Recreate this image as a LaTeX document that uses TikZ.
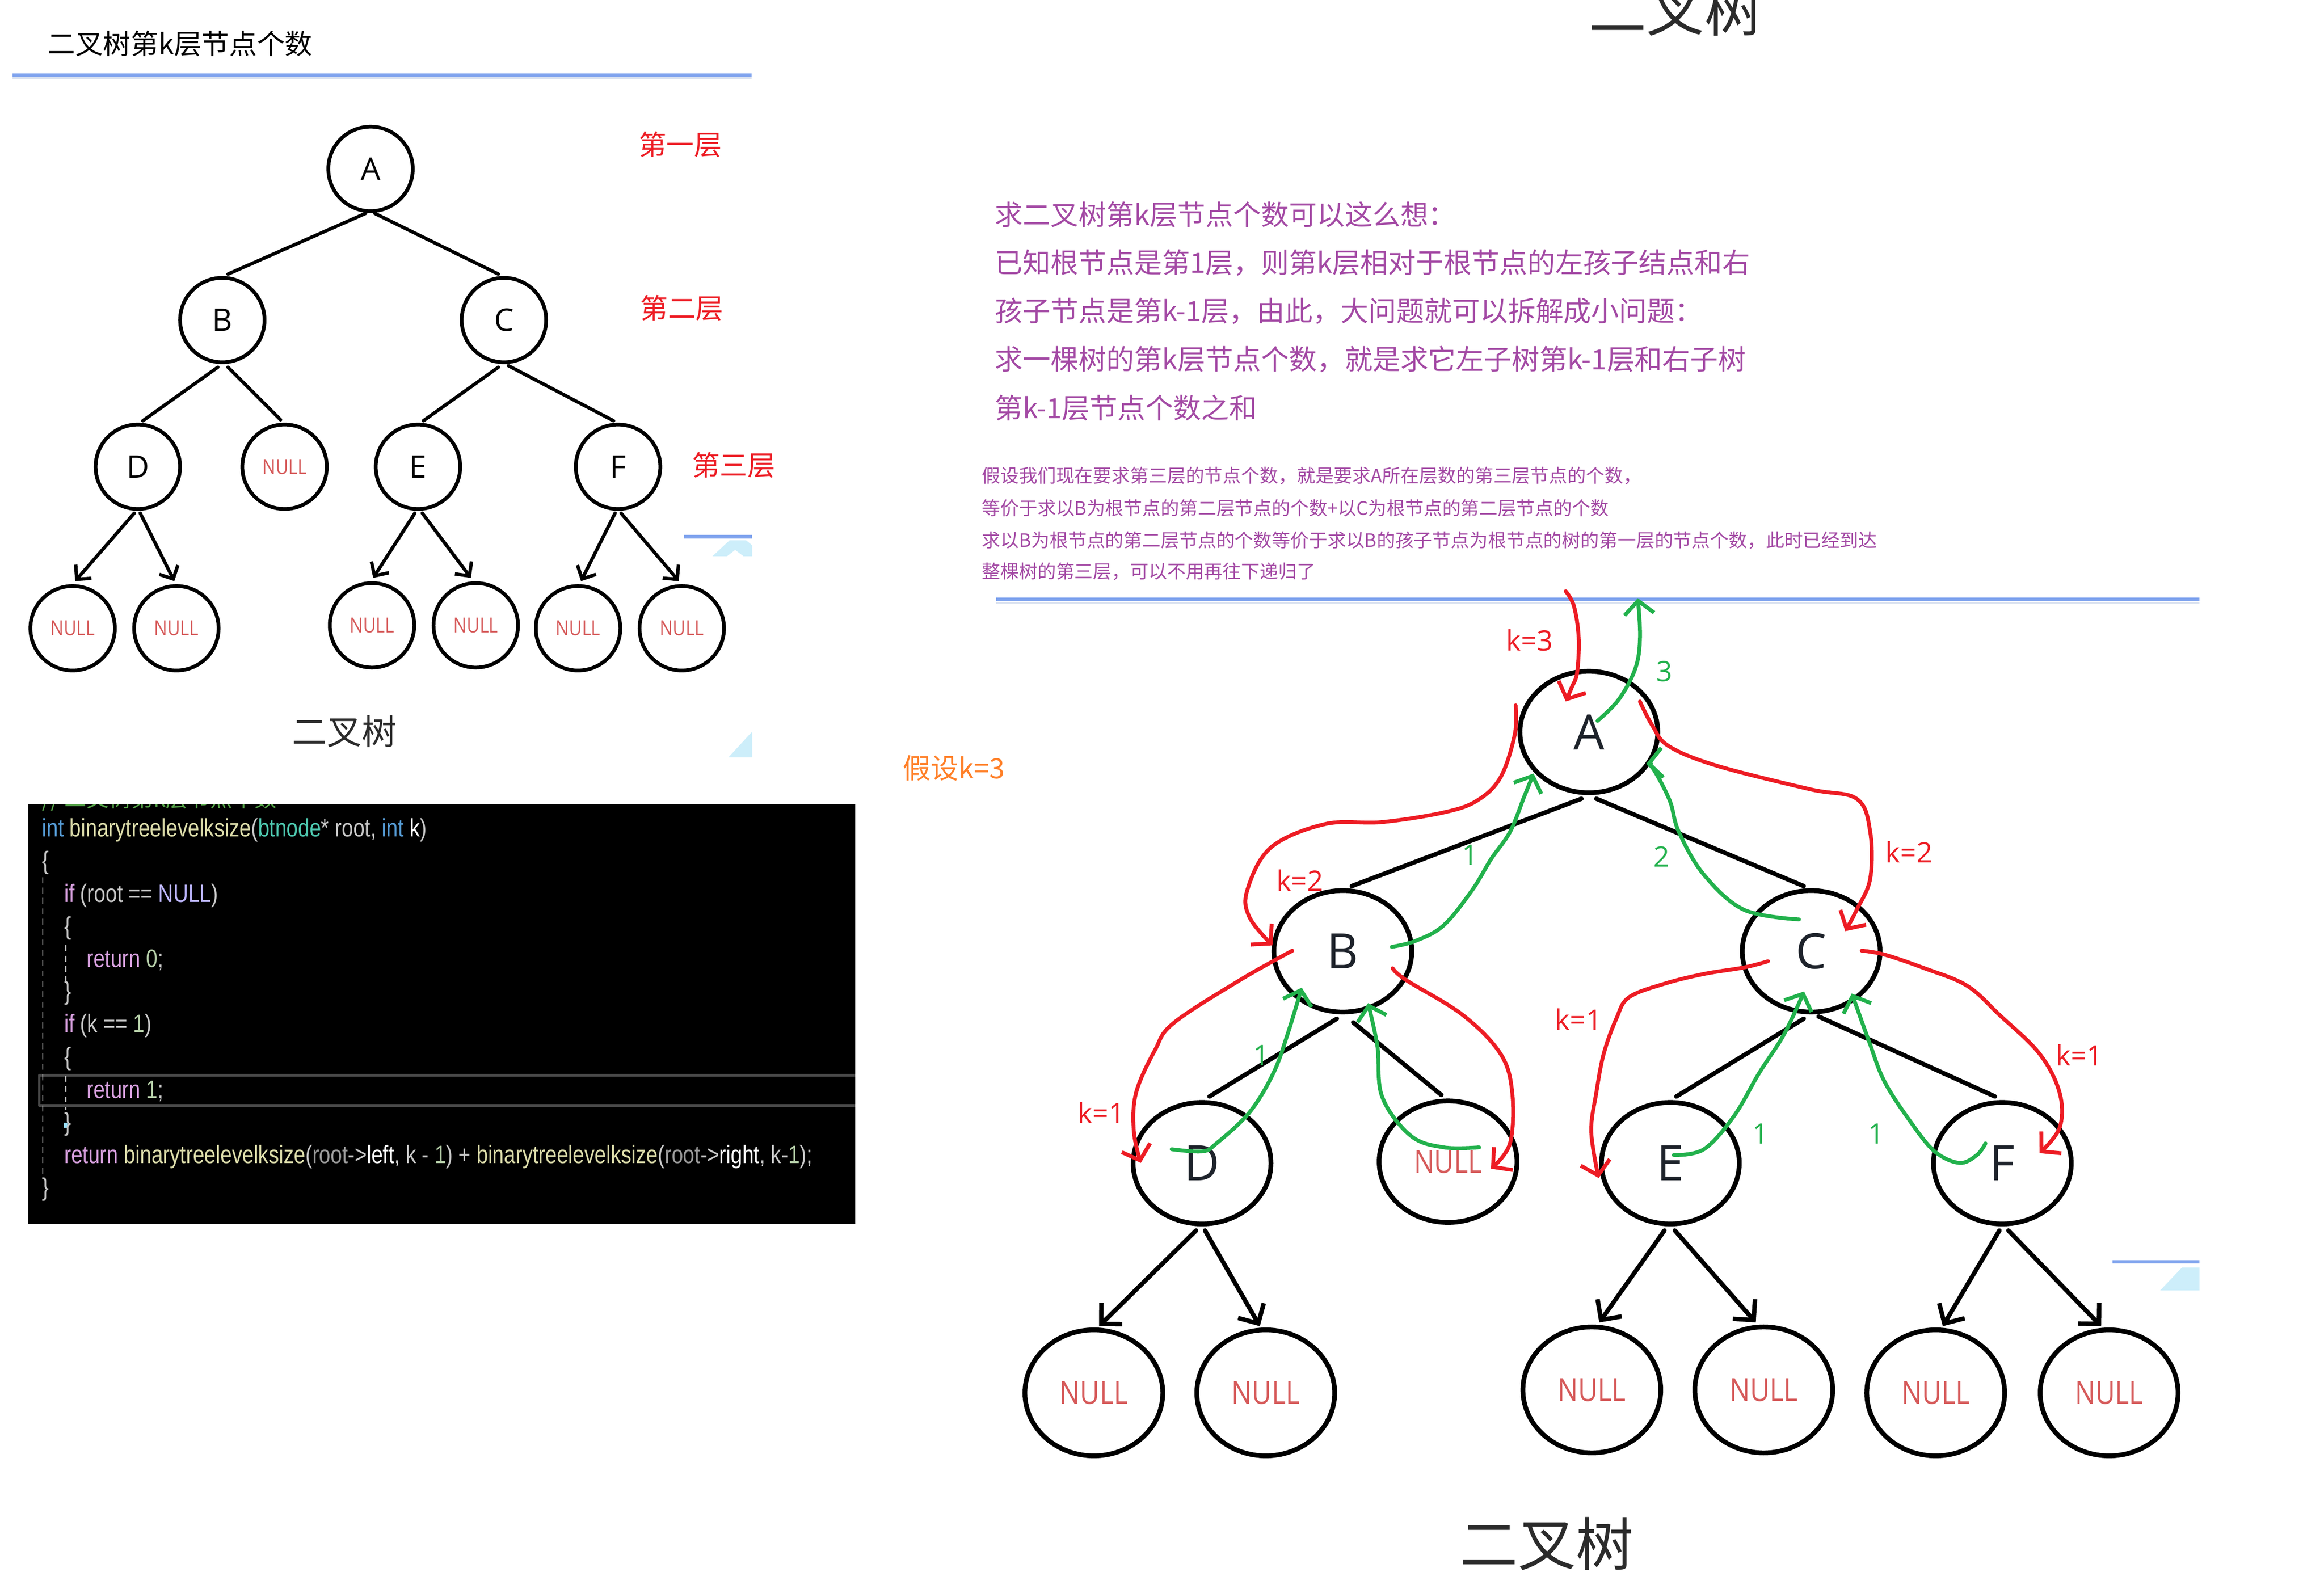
\documentclass[tikz,border=0pt]{standalone}
\usepackage{fontspec}
\setmainfont{Open Sans}
\newfontfamily\cjk{Noto Sans CJK SC}
\newfontfamily\codefnt[FakeStretch=0.82]{Liberation Sans}
\newfontfamily\nullfnt[FakeStretch=0.85]{Open Sans}
\usetikzlibrary{shapes.geometric, arrows.meta}
\newcommand{\setfs}[1]{\fontsize{#1}{#1}\selectfont}
\definecolor{pred}{HTML}{ED1C24}
\definecolor{pgreen}{HTML}{22B14C}
\definecolor{ppurple}{HTML}{A349A4}
\definecolor{porange}{HTML}{FF7F27}
\definecolor{nullred}{HTML}{D65A5A}
\definecolor{rulec}{HTML}{7FA3EE}
\definecolor{rulelight}{HTML}{DCE3F0}
\definecolor{cyanart}{HTML}{CDEEFA}
\definecolor{ckw}{HTML}{569CD6}
\definecolor{cfn}{HTML}{DCDCAA}
\definecolor{ctype}{HTML}{4EC9B0}
\definecolor{cpl}{HTML}{C8C8C8}
\definecolor{cgr}{HTML}{9B9B9B}
\definecolor{cctl}{HTML}{D8A0DF}
\definecolor{cmac}{HTML}{BEB7FF}
\definecolor{cnum}{HTML}{B5CEA8}
\definecolor{ccom}{HTML}{57A64A}
\definecolor{letter}{HTML}{1E232B}
\definecolor{hlbox}{HTML}{4A4A4A}
\definecolor{darktxt}{HTML}{2B2B2B}
\tikzset{
  lnode/.style={draw, circle, line width=2.5pt, minimum size=57pt, inner sep=0pt, font=\setfs{21}, text=black},
  lnull/.style={lnode, font=\nullfnt\setfs{14}, text=nullred},
  rnode/.style={draw, ellipse, line width=3.2pt, minimum width=93pt, minimum height=82pt, inner sep=0pt, font=\setfs{33}, text=letter},
  rnull/.style={rnode, font=\nullfnt\setfs{21.5}, text=nullred},
  rleaf/.style={rnull, minimum height=85pt},
  ledge/.style={line width=2.3pt, black, line cap=round},
  redge/.style={line width=3pt, black, line cap=round},
  larr/.style={ledge, -{Straight Barb[length=7pt,width=14pt]}},
  rarr/.style={redge, -{Straight Barb[length=10pt,width=20pt]}},
  rpen/.style={pred, line width=2.6pt, line cap=round, line join=round, -{Straight Barb[length=9pt,width=20pt]}},
  gpen/.style={pgreen, line width=2.6pt, line cap=round, line join=round, -{Straight Barb[length=9pt,width=20pt]}},
  rlab/.style={text=pred, font=\setfs{19}, inner sep=0pt},
  glab/.style={text=pgreen, font=\setfs{19}, inner sep=0pt},
  cjktxt/.style={inner sep=0pt, anchor=west},
  codeln/.style={inner sep=0pt, anchor=base west, font=\codefnt\setfs{17}, text=cpl},
  rulestyle/.style={rulec, line width=2.2pt},
  rulelo/.style={rulelight, line width=1.2pt}
}
\begin{document}
\begin{tikzpicture}[x=1pt, y=-1pt, line join=round]
\fill[white] (0,0) rectangle (1568,1060.76);
\useasboundingbox (0,0) rectangle (1568,1060.76);

% ---------- left: title ----------
\node[cjktxt, font=\cjk\setfs{18.7}, text=black] (title) at (32,29.4) {二叉树第k层节点个数};
\draw[rulestyle] (8.5,50.8) -- (507,50.8);
\draw[rulelo] (8.5,52.8) -- (507,52.8);

% ---------- left tree ----------
\node[lnode] (lA) at (250,114) {A};
\node[lnode] (lB) at (150,216) {B};
\node[lnode] (lC) at (340,216) {C};
\node[lnode] (lD) at (93,315) {D};
\node[lnull] (lN) at (192,315) {NULL};
\node[lnode] (lE) at (282,315) {E};
\node[lnode] (lF) at (417,315) {F};
\node[lnull] (lL1) at (49,424) {NULL};
\node[lnull] (lL2) at (119,424) {NULL};
\node[lnull] (lL3) at (251,422) {NULL};
\node[lnull] (lL4) at (321,422) {NULL};
\node[lnull] (lL5) at (390,424) {NULL};
\node[lnull] (lL6) at (460,424) {NULL};

\draw[ledge] ([shift={(-3.3,30)}]lA.center) -- ([shift={(3.8,-31)}]lB.center);
\draw[ledge] ([shift={(2.8,30)}]lA.center) -- ([shift={(-3.7,-31)}]lC.center);
\draw[ledge] ([shift={(-3,31.8)}]lB.center) -- ([shift={(3.3,-31)}]lD.center);
\draw[ledge] ([shift={(3.8,31.8)}]lB.center) -- ([shift={(-2.7,-31.7)}]lN.center);
\draw[ledge] ([shift={(-3.7,31.8)}]lC.center) -- ([shift={(3.6,-31)}]lE.center);
\draw[ledge] ([shift={(3,30.8)}]lC.center) -- ([shift={(-3,-31)}]lF.center);
\draw[larr] ([shift={(-2.4,31.3)}]lD.center) -- ([shift={(1.7,-31.8)}]lL1.center);
\draw[larr] ([shift={(1.6,31.3)}]lD.center) -- ([shift={(-1.4,-31.8)}]lL2.center);
\draw[larr] ([shift={(-2.1,31.3)}]lE.center) -- ([shift={(0.8,-32)}]lL3.center);
\draw[larr] ([shift={(2.9,31.3)}]lE.center) -- ([shift={(-3.3,-32)}]lL4.center);
\draw[larr] ([shift={(-2,31.3)}]lF.center) -- ([shift={(2,-31.8)}]lL5.center);
\draw[larr] ([shift={(2,31.3)}]lF.center) -- ([shift={(-2,-31.8)}]lL6.center);

\node[font=\cjk\setfs{18.7}, text=pred, inner sep=0pt] (lev1) at (459,97.5) {第一层};
\node[font=\cjk\setfs{18.7}, text=pred, inner sep=0pt] (lev2) at (460,208) {第二层};
\node[font=\cjk\setfs{18.7}, text=pred, inner sep=0pt] (lev3) at (495,314) {第三层};
\node[font=\cjk\setfs{23.5}, text=darktxt, inner sep=0pt] (lcap) at (232.4,493.5) {二叉树};

% small cropped artifacts
\draw[rulestyle] (461.5,362.2) -- (507.5,362.2);
\fill[cyanart] (480.8,375.3) -- (492.3,364.6) -- (503.3,364.6) -- (507.5,368) -- (507.5,375.3) -- (501.6,375.3) -- (496,371.1) -- (490.6,375.3) -- cycle;
\fill[cyanart] (491.5,511.1) -- (506.7,494.6) -- (507.5,494) -- (507.5,511.1) -- cycle;
\draw[rulestyle] (1425.3,851.5) -- (1484,851.5);
\fill[cyanart] (1457.5,870.8) -- (1472.2,855.4) -- (1484,855.4) -- (1484,870.8) -- cycle;

% ---------- code box ----------
\fill[black] (19,542.7) rectangle (577,826);
\begin{scope}
\clip (19,542.7) rectangle (577,826);
\node[inner sep=0pt, anchor=base west, font=\cjk\setfs{15}, text=ccom] (cmt) at (28.2,544.5) {// 二叉树第k层节点个数};
\draw[hlbox, line width=1.8pt] (580,725.7) -- (26.5,725.7) -- (26.5,746.1) -- (580,746.1);
\end{scope}
\draw[cgr!70, dashed, dash pattern=on 4pt off 3pt, line width=0.8pt] (28.9,592) -- (28.9,795);
\draw[cgr!70, dashed, dash pattern=on 4pt off 3pt, line width=0.8pt] (44.3,638) -- (44.3,662);
\draw[cgr!70, dashed, dash pattern=on 4pt off 3pt, line width=0.8pt] (44.3,726) -- (44.3,749);
\fill[cyan!40] (43,757.5) rectangle (45.5,761);
\node[codeln] (c1) at (28.2,564.6) {{\color{ckw}int} {\color{cfn}binarytreelevelksize}(\textcolor{ctype}{btnode}* root, {\color{ckw}int} {\color{white}k})};
\node[codeln] (c2) at (28.2,586.6) {\{};
\node[codeln] (c3) at (43.2,608.7) {{\color{cctl}if} (root == {\color{cmac}NULL})};
\node[codeln] (c4) at (43.2,630.7) {\{};
\node[codeln] (c5) at (58.2,652.8) {{\color{cctl}return} {\color{cnum}0};};
\node[codeln] (c6) at (43.2,674.8) {\}};
\node[codeln] (c7) at (43.2,696.6) {{\color{cctl}if} (k == {\color{cnum}1})};
\node[codeln] (c8) at (43.2,718.8) {\{};
\node[codeln] (c9) at (58.2,741.1) {{\color{cctl}return} {\color{cnum}1};};
\node[codeln] (c10) at (43.2,763) {\}};
\node[codeln] (c11) at (43.2,785.2) {{\color{cctl}return} {\color{cfn}binarytreelevelksize}({\color{cgr}root}->{\color{white}left}, k - {\color{cnum}1}) + {\color{cfn}binarytreelevelksize}({\color{cgr}root}->{\color{white}right}, k-{\color{cnum}1});};
\node[codeln] (c12) at (28.2,807) {\}};

% ---------- right: headings and text ----------
\node[font=\cjk\setfs{39}, text=darktxt, inner sep=0pt] (rtop) at (1130.5,6.5) {二叉树};
\node[cjktxt, font=\cjk\setfs{18.8}, text=ppurple] (p1) at (671.1,144.8) {求二叉树第k层节点个数可以这么想：};
\node[cjktxt, font=\cjk\setfs{18.8}, text=ppurple] (p2) at (671.1,177.4) {已知根节点是第1层，则第k层相对于根节点的左孩子结点和右};
\node[cjktxt, font=\cjk\setfs{18.8}, text=ppurple] (p3) at (671.1,210) {孩子节点是第k-1层，由此，大问题就可以拆解成小问题：};
\node[cjktxt, font=\cjk\setfs{18.8}, text=ppurple] (p4) at (671.1,242.6) {求一棵树的第k层节点个数，就是求它左子树第k-1层和右子树};
\node[cjktxt, font=\cjk\setfs{18.8}, text=ppurple] (p5) at (671.1,275.2) {第k-1层节点个数之和};
\node[cjktxt, font=\cjk\setfs{12.5}, text=ppurple] (s1) at (662.3,321) {假设我们现在要求第三层的节点个数，就是要求A所在层数的第三层节点的个数，};
\node[cjktxt, font=\cjk\setfs{12.5}, text=ppurple] (s2) at (662.3,342.8) {等价于求以B为根节点的第二层节点的个数+以C为根节点的第二层节点的个数};
\node[cjktxt, font=\cjk\setfs{12.5}, text=ppurple] (s3) at (662.3,364.7) {求以B为根节点的第二层节点的个数等价于求以B的孩子节点为根节点的树的第一层的节点个数，此时已经到达};
\node[cjktxt, font=\cjk\setfs{12.5}, text=ppurple] (s4) at (662.3,385.7) {整棵树的第三层，可以不用再往下递归了};
\draw[rulestyle, line width=2.6pt] (672,404.5) -- (1484,404.5);
\draw[rulelo] (672,407) -- (1484,407);
\node[cjktxt, font=\cjk\setfs{18.8}, text=porange] (assume) at (608.9,518.4) {假设k=3};
\node[font=\cjk\setfs{39}, text=darktxt, inner sep=0pt] (rcap) at (1043.8,1041.8) {二叉树};

% ---------- right tree ----------
\node[rnode] (rA) at (1072,494) {A};
\node[rnode] (rB) at (906,642) {B};
\node[rnode] (rC) at (1222,642) {C};
\node[rnode] (rD) at (811,785) {D};
\node[rnull] (rN) at (977,784) {NULL};
\node[rnode] (rE) at (1127,785) {E};
\node[rnode] (rF) at (1351,785) {F};
\node[rleaf] (rL1) at (738,940) {NULL};
\node[rleaf] (rL2) at (854,940) {NULL};
\node[rleaf] (rL3) at (1074,938) {NULL};
\node[rleaf] (rL4) at (1190,938) {NULL};
\node[rleaf] (rL5) at (1306,940) {NULL};
\node[rleaf] (rL6) at (1423,940) {NULL};

\draw[redge] ([shift={(-5,45)}]rA.center) -- ([shift={(6,-44)}]rB.center);
\draw[redge] ([shift={(5,45)}]rA.center) -- ([shift={(-5,-44)}]rC.center);
\draw[redge] ([shift={(-4,45.5)}]rB.center) -- ([shift={(5,-45)}]rD.center);
\draw[redge] ([shift={(7,48)}]rB.center) -- ([shift={(-4.5,-45)}]rN.center);
\draw[redge] ([shift={(-5,45.5)}]rC.center) -- ([shift={(4,-45)}]rE.center);
\draw[redge] ([shift={(5,44)}]rC.center) -- ([shift={(-5,-45)}]rF.center);
\draw[rarr] ([shift={(-4,45.4)}]rD.center) -- ([shift={(3.5,-45)}]rL1.center);
\draw[rarr] ([shift={(2,45.4)}]rD.center) -- ([shift={(-4,-45)}]rL2.center);
\draw[rarr] ([shift={(-4,45.4)}]rE.center) -- ([shift={(5,-45.5)}]rL3.center);
\draw[rarr] ([shift={(3,45.4)}]rE.center) -- ([shift={(-5.4,-45.5)}]rL4.center);
\draw[rarr] ([shift={(-2,45.4)}]rF.center) -- ([shift={(4.8,-45)}]rL5.center);
\draw[rarr] ([shift={(4,45.4)}]rF.center) -- ([shift={(-5.4,-45)}]rL6.center);

% ---------- hand-drawn recursion annotations ----------
\draw[rpen] plot[smooth, tension=0.6] coordinates {(1056.4,399) (1061.9,409) (1065.1,430) (1064.1,453.7) (1060.3,464.2) (1056.4,473.4)};
\draw[gpen] plot[smooth, tension=0.6] coordinates {(1077.8,486.5) (1092.2,472) (1103.4,451) (1106.5,430) (1105,403.7)};
\draw[rpen] plot[smooth, tension=0.6] coordinates {(1022.6,476) (1022,495.7) (1012.4,524.6) (996.4,540.4) (974,548.3) (932.5,554.8) (894.2,556.1) (857.5,571.9) (841.5,600.8) (843.1,619.2) (858.5,638)};
\draw[rpen] plot[smooth, tension=0.6] coordinates {(1106.4,473.4) (1115,490) (1126,503.6) (1158.1,516.7) (1220.6,532.5) (1252.7,539.1) (1261.8,561.4) (1261.8,593) (1252.7,614) (1245,628.4)};
\draw[gpen] plot[smooth, tension=0.6] coordinates {(1213.8,620.5) (1176.7,614) (1149.6,590.3) (1132.7,561.4) (1126.6,540.4) (1115.8,519.4) (1110.8,515.4)};
\draw[gpen] plot[smooth, tension=0.6] coordinates {(939,639) (955,635) (974,624.5) (993.2,600.8) (1006,579.8) (1018.8,561.4) (1028.3,537.8) (1034.7,522)};
\draw[rpen] plot[smooth, tension=0.6] coordinates {(871.9,641.6) (836.8,661.3) (792.1,690.2) (779.3,708.6) (766.5,737.5) (765,763.8) (769.7,784.8)};
\draw[gpen] plot[smooth, tension=0.6] coordinates {(790.5,775.6) (811.2,777) (820.8,771.6) (843.1,750.6) (859.1,724.3) (868.7,698) (878.3,666.5)};
\draw[rpen] plot[smooth, tension=0.6] coordinates {(939.6,653.4) (948.5,661.3) (986.8,684.9) (1012.4,711.2) (1020.3,737.5) (1018.8,771.6) (1006,788.7)};
\draw[gpen] plot[smooth, tension=0.6] coordinates {(998,774.3) (974,774.3) (951.7,766.4) (932.5,740.1) (929.3,706) (923,677)};
\draw[rpen] plot[smooth, tension=0.6] coordinates {(1192.9,648.7) (1176.7,652.9) (1149.6,657.3) (1122.6,664) (1099,673.1) (1090.5,687.5) (1082,711.2) (1077,737.5) (1073.6,763.8) (1078.6,795)};
\draw[gpen] plot[smooth, tension=0.6] coordinates {(1129.3,779.5) (1149.6,775.6) (1169.9,753.2) (1186.8,724.3) (1203.7,698) (1217.2,669.1)};
\draw[rpen] plot[smooth, tension=0.6] coordinates {(1256.1,641.6) (1271.3,644.2) (1298.3,653.4) (1327.1,665.2) (1349,684.9) (1376.1,711.2) (1389.6,737.5) (1389.6,761.1) (1376.1,778.2)};
\draw[gpen] plot[smooth, tension=0.6] coordinates {(1339.6,771.6) (1333.8,779.5) (1322,784.8) (1305.1,776.9) (1288.2,755.9) (1271.3,729.6) (1261.2,703.3) (1252.7,679.7) (1249.3,670.5)};

\node[rlab] (k3) at (1032,432) {k=3};
\node[rlab] (k2a) at (877,594) {k=2};
\node[rlab] (k2b) at (1288,575) {k=2};
\node[rlab] (k1a) at (743,751) {k=1};
\node[rlab] (k1b) at (1065,688) {k=1};
\node[rlab] (k1c) at (1403,712) {k=1};
\node[glab] (g3) at (1123,453) {3};
\node[glab] (g2) at (1121,578) {2};
\node[glab] (g1a) at (992,577) {1};
\node[glab] (g1b) at (851,712) {1};
\node[glab] (g1c) at (1188,765) {1};
\node[glab] (g1d) at (1266,765) {1};
\end{tikzpicture}
\end{document}
